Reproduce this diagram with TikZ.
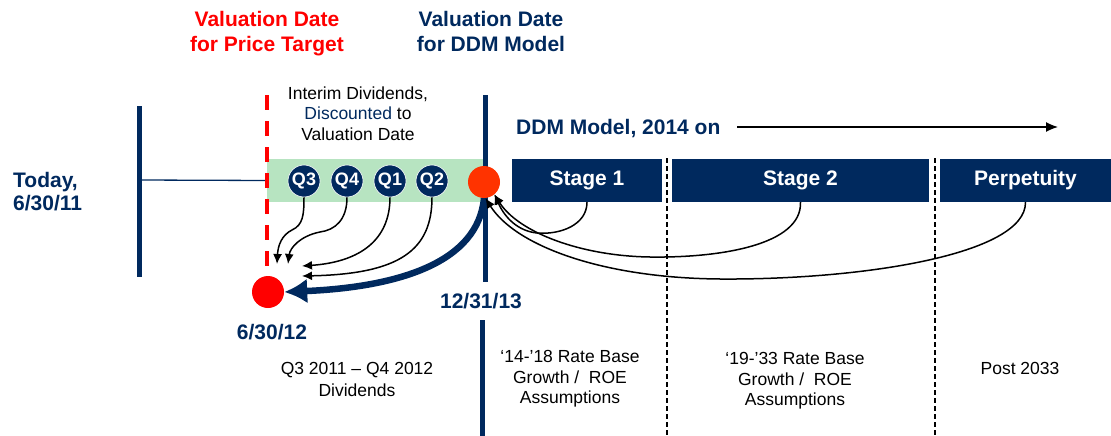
\documentclass[tikz,border=0pt]{standalone}
\usepackage{fontspec}
\setmainfont{Liberation Sans}
\usepackage{tikz}
\usetikzlibrary{arrows.meta,positioning}
\definecolor{ddmnavy}{RGB}{0,41,94}
\definecolor{ptred}{RGB}{255,0,0}
\definecolor{ddmorange}{RGB}{255,51,0}
\definecolor{divgreen}{RGB}{183,228,193}
\tikzset{>=latex}
\tikzset{boldlbl/.style={font=\fontsize{21}{25}\selectfont\bfseries, align=center, inner sep=0pt}}
\tikzset{plainlbl/.style={font=\fontsize{17.5}{20.5}\selectfont, align=center, inner sep=0pt}}
\tikzset{stagebox/.style={boldlbl, fill=ddmnavy, text=white, minimum height=43pt}}
\tikzset{qdot/.style={circle, fill=ddmnavy, draw=white, line width=0.6pt, text=white, font=\fontsize{18}{18}\selectfont\bfseries, inner sep=0pt, minimum size=32pt}}
\tikzset{datedot/.style={circle, inner sep=0pt, minimum size=32pt}}
\tikzset{timeline/.style={ddmnavy, line width=5pt}}
\tikzset{stagesep/.style={line width=1.2pt, dash pattern=on 5pt off 3pt}}
\tikzset{discount/.style={-{Latex[length=10pt,width=9pt]}, line width=1.5pt}}

\begin{document}
\begin{tikzpicture}[x=1pt,y=-1pt]
      \useasboundingbox (0,0) rectangle (1111,436);
      \coordinate (today top) at (139,106);
      \coordinate (today bot) at (139,277);
      \coordinate (today mid) at (139,180);
      \coordinate (pt top) at (267,95);
      \coordinate (ddm top) at (485,95);
      \coordinate (ddm bot) at (485,282);
      \coordinate (ddm low) at (482,320);
      \coordinate (ddm end) at (482,436);
      \coordinate (run start) at (737,127);
      \coordinate (run end) at (1058,127);
      \node[boldlbl, text=ptred, anchor=north] (vdpt) at (267,11.5) {Valuation Date\\for Price Target};
      \node[boldlbl, text=ddmnavy, anchor=north] (vdddmtxt) at (491,11.5) {Valuation Date\\for DDM Model};
      \node[plainlbl, anchor=north] (interimtxt) at (358,86.5) {Interim Dividends,\\\textcolor{ddmnavy}{Discounted} to\\Valuation Date};
      \node[boldlbl, text=ddmnavy, align=left, anchor=north west, font=\fontsize{21}{23}\selectfont\bfseries] (todaytxt) at (13,172.5) {Today,\\6/30/11};
      \draw[timeline] (today top) -- (today bot);
      \node[fill=divgreen, minimum width=216pt, minimum height=43pt, inner sep=0pt] (interim) at (375,180.5) {};
      \draw[ddmnavy, line width=1.3pt] (today mid) -- (interim.west);
      \draw[ptred, line width=3.5pt, dash pattern=on 15pt off 11pt] (pt top) -- (267,280);
      \draw[timeline] (ddm top) -- (ddm bot);
      \draw[timeline] (ddm low) -- (ddm end);
      \node[qdot] (q3) at (304,181) {Q3};
      \node[qdot] (q4) at (347,181) {Q4};
      \node[qdot] (q1) at (390,181) {Q1};
      \node[qdot] (q2) at (432,181) {Q2};
      \node[datedot, fill=ddmorange] (vdddm) at (484,182) {};
      \node[datedot, fill=ptred] (vdptdot) at (268,292) {};
      \node[boldlbl, text=ddmnavy] (ddmdate) at (481,301) {12/31/13};
      \node[boldlbl, text=ddmnavy] (ptdate) at (272,332) {6/30/12};
      \node[boldlbl, text=ddmnavy, anchor=base west] (ddmrun) at (516,134.5) {DDM Model, 2014 on};
      \draw[-{Latex[length=12pt,width=10pt]}, line width=1.3pt] (run start) -- (run end);
      \node[stagebox, minimum width=150pt] (stage1) at (587,180.5) {Stage 1};
      \node[stagebox, minimum width=257pt] (stage2) at (800.5,180.5) {Stage 2};
      \node[stagebox, minimum width=171pt] (perp) at (1025.5,180.5) {Perpetuity};
      \draw[stagesep] (667,158) -- (667,436);
      \draw[stagesep] (935,158) -- (935,436);
      \coordinate (q3 end) at (277,264);
      \coordinate (q4 end) at (288,264);
      \coordinate (q1 end) at (302,266);
      \coordinate (q2 end) at (302,276);
      \draw[discount] (q3.south) .. controls (304,215) and (303,225) .. (292,230) .. controls (282,235) and (278,245) .. (q3 end);
      \draw[discount] (q4.south) .. controls (347,220) and (335,230) .. (320,232) .. controls (300,236) and (290,248) .. (q4 end);
      \draw[discount] (q1.south) .. controls (390,240) and (360,262) .. (q1 end);
      \draw[discount] (q2.south) .. controls (432,250) and (400,274) .. (q2 end);
      \draw[ddmnavy, line width=6.5pt, -{Latex[length=23pt,width=25pt]}] (vdddm.south) .. controls (478,262) and (400,287) .. (vdptdot.east);
      \draw[discount] (stage1.south) .. controls (587,225) and (560,235) .. (537,233) .. controls (518,231) and (505,218) .. (vdddm.-50);
      \draw[discount] (stage2.south) .. controls (802,245) and (720,258) .. (650,257) .. controls (580,256) and (518,232) .. (vdddm.-50);
      \draw[discount] (perp.south) .. controls (1026,255) and (860,280) .. (720,279) .. controls (600,278) and (515,245) .. (vdddm.-85);
      \node[plainlbl, anchor=north, font=\fontsize{17.5}{22}\selectfont] (divtxt) at (357,362.5) {Q3 2011 – Q4 2012\\Dividends};
      \node[plainlbl, anchor=north] (s1txt) at (570,350.5) {‘14-’18 Rate Base\\Growth /\ \ ROE\\Assumptions};
      \node[plainlbl, anchor=north] (s2txt) at (795,352.5) {‘19-’33 Rate Base\\Growth /\ \ ROE\\Assumptions};
      \node[plainlbl] (perptxt) at (1020,368) {Post 2033};
    \end{tikzpicture}
\end{document}
